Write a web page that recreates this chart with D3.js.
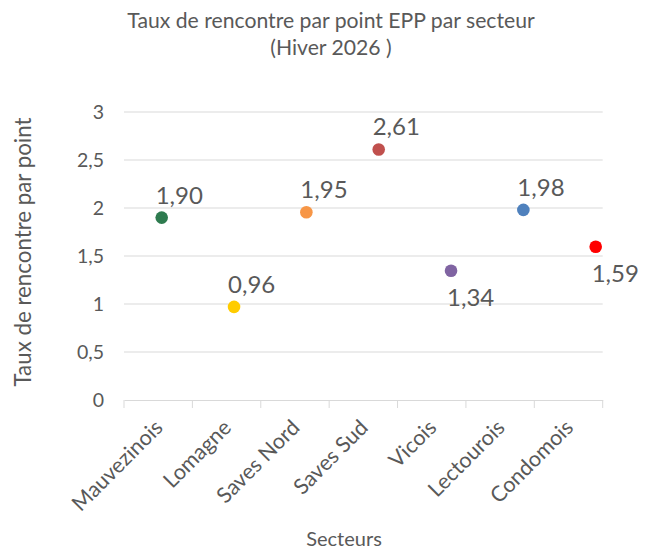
<!DOCTYPE html>
<html><head><meta charset="utf-8">
<script src="https://cdn.jsdelivr.net/npm/d3@7"></script>
<style>body{margin:0;background:#fff;} svg{display:block;} text{font-family:Lato,"Open Sans",sans-serif;fill:#595959;}</style>
</head><body>
<svg id="c" width="654" height="553"></svg>
<script>
const categories = ["Mauvezinois","Lomagne","Saves Nord","Saves Sud","Vicois","Lectourois","Condomois"];
const values = [1.90, 0.97, 1.955, 2.61, 1.347, 1.98, 1.597];
const labels = ["1,90","0,96","1,95","2,61","1,34","1,98","1,59"];
const colors = ["#2e7b4f","#ffcc00","#f79646","#c0504d","#8064a2","#4f81bd","#ff0000"];
const labelBelow = [false,false,false,false,true,false,true];
const yTicks = [0,0.5,1,1.5,2,2.5,3];
const titleLines = ["Taux de rencontre par point EPP par secteur","(Hiver 2026 )"];
const xTitle = "Secteurs";
const yTitle = "Taux de rencontre par point";

const svg = d3.select("#c");
const y = d3.scaleLinear().domain([0,3]).range([400,112]);
const xBand = d3.scaleBand().domain(categories).range([124,602.7]);
const xPt = d3.scalePoint().domain(categories).range([161.7,595.7]);
const fmt = v => String(v).replace(".", ",");

// gridlines
svg.append("g").selectAll("line").data(yTicks.filter(t=>t>0)).join("line")
  .attr("x1",124).attr("x2",602.7).attr("y1",d=>y(d)).attr("y2",d=>y(d))
  .attr("stroke","#d9d9d9").attr("stroke-width",1);

// y axis labels
const yAxis = svg.append("g").attr("transform","translate(118,0)")
  .call(d3.axisLeft(y).tickValues(yTicks).tickFormat(fmt).tickSize(0).tickPadding(14));
yAxis.select(".domain").remove();
yAxis.selectAll("text").style("font-size","19.5px").attr("fill","#595959").attr("font-family","Lato");

// x axis
const xAxis = svg.append("g").attr("transform","translate(0,400)")
  .call(d3.axisBottom(xBand).tickSize(0).tickFormat(""));
xAxis.select(".domain").attr("stroke","#d9d9d9");
const bounds = categories.map(c=>xBand(c)).concat([xBand.range()[1]]);
svg.append("g").selectAll("line").data(bounds).join("line")
  .attr("x1",d=>d).attr("x2",d=>d).attr("y1",400).attr("y2",408)
  .attr("stroke","#d9d9d9");
svg.append("g").selectAll("text").data(categories).join("text")
  .attr("transform",d=>`translate(${xBand(d)+xBand.bandwidth()/2+6},${429}) rotate(-45)`)
  .attr("text-anchor","end").style("font-size","21.5px").text(d=>d);

// points
svg.append("g").selectAll("circle").data(categories).join("circle")
  .attr("cx",d=>xPt(d)).attr("cy",(d,i)=>y(values[i])).attr("r",6.3)
  .attr("fill",(d,i)=>colors[i]);

// data labels
svg.append("g").selectAll("text").data(categories).join("text")
  .attr("x",(d,i)=>xPt(d) + (labelBelow[i]? -4 : -6))
  .attr("y",(d,i)=>y(values[i]) + (labelBelow[i]? 35 : -14))
  .style("font-size","24px").text((d,i)=>labels[i]);

// titles
svg.append("g").selectAll("text").data(titleLines).join("text")
  .attr("x",331).attr("y",(d,i)=>28+i*27).attr("text-anchor","middle")
  .style("font-size","21.2px").text(d=>d);
svg.append("text").attr("x",344).attr("y",546).attr("text-anchor","middle")
  .style("font-size","20px").text(xTitle);
svg.append("text").attr("transform","translate(31,252) rotate(-90)").attr("text-anchor","middle")
  .style("font-size","22.3px").text(yTitle);
</script>
</body></html>
